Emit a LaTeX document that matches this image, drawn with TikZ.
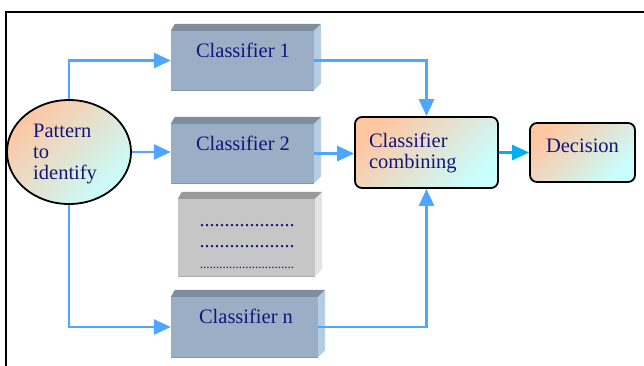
\documentclass[tikz,border=0pt]{standalone}
\usepackage{fontspec}
\setmainfont{Liberation Serif}
\usetikzlibrary{arrows.meta,shapes.geometric}
\definecolor{txt}{HTML}{14147A}
\definecolor{arr}{HTML}{4DA6FF}
\definecolor{arrb}{HTML}{00B0F0}
\definecolor{peach}{HTML}{FFC6A2}
\definecolor{aqua}{HTML}{C8FFFF}
\definecolor{bfront}{HTML}{9AAFC5}
\definecolor{btop}{HTML}{7F8E9F}
\definecolor{bside}{HTML}{B4CCE6}
\definecolor{bbot}{HTML}{8497AB}
\definecolor{gfront}{HTML}{C6C6C6}
\definecolor{gtop}{HTML}{9A9A9A}
\definecolor{gside}{HTML}{E4E4E4}
\definecolor{gbot}{HTML}{ADADAD}
\tikzset{
  lbl/.style={text=txt, font=\fontsize{20.5}{21}\selectfont, inner sep=0pt},
  front/.style={draw=none, inner sep=0pt, minimum width=143pt, minimum height=59pt},
  gradbox/.style={draw=black, line width=1.8pt, rounded corners=7pt, top color=peach, bottom color=aqua, shading angle=45, text=txt, font=\fontsize{20.5}{21}\selectfont},
  conn/.style={draw=arr, line width=2.8pt, -{Triangle[length=17pt,width=15pt]}},
}
\newcommand{\bevelbox}[4]{% name, topcolor, sidecolor, botcolor
  \fill[#2] (#1.north west) -- ++(4,-7) -- ([shift={(7,-7)}]#1.north east) -- (#1.north east) -- cycle;
  \fill[#3] (#1.north east) -- ++(7,-7) -- ([shift={(7,-7)}]#1.south east) -- (#1.south east) -- cycle;
  \draw[#4, line width=1.2pt] ([yshift=-0.6]#1.south west) -- ([yshift=-0.6]#1.south east);
}
\begin{document}
\begin{tikzpicture}[x=1pt,y=-1pt]
\useasboundingbox (0,0) rectangle (644,365);
\begin{scope}
\clip (0,0) rectangle (644,365);
\draw[line width=2.3pt] (6,366) -- (6,12) -- (646,12);
\end{scope}

% classifier boxes
\node[front, fill=bfront] (c1) at (242.5,60.5) {};
\bevelbox{c1}{btop}{bside}{bbot}
\node[front, fill=bfront] (c2) at (242.5,153.5) {};
\bevelbox{c2}{btop}{bside}{bbot}
\node[front, fill=gfront, minimum width=137pt, minimum height=77pt] (cd) at (246.5,237.5) {};
\bevelbox{cd}{gtop}{gside}{gbot}
\node[front, fill=bfront, minimum width=147pt, minimum height=60pt] (cn) at (244.5,327) {};
\bevelbox{cn}{btop}{bside}{bbot}

\node[lbl] (t1) at (243,50) {Classifier 1};
\node[lbl] (t2) at (243,143) {Classifier 2};
\node[lbl] (tn) at (246,316) {Classifier n};
\node[lbl, font=\fontsize{20}{21}\selectfont] (d1) at (247,226) {...................};
\node[lbl, font=\fontsize{20}{21}\selectfont] (d2) at (247,247) {...................};
\node[lbl, font=\fontsize{13}{14}\selectfont] (d3) at (247,268) {.............................};

% ellipse
\node[ellipse, draw=black, line width=1.8pt, top color=peach, bottom color=aqua, shading angle=45, minimum width=124pt, minimum height=104pt, inner sep=0pt] (ell) at (69,152) {};
\node[lbl, align=left, anchor=west] (pt) at (33,154) {Pattern\\to\\identify};

% combining and decision
\node[gradbox, minimum width=143pt, minimum height=71pt, text width=115pt, align=left, inner xsep=14pt] (comb) at (426.5,152.5) {\raisebox{-2pt}[0pt][0pt]{}Classifier\\combining};
\node[gradbox, minimum width=105pt, minimum height=59pt, inner sep=0pt] (dec) at (582.5,152.5) {\raisebox{7pt}[13pt][0pt]{Decision}};

% connectors
\draw[conn] (ell.north) |- (c1.west);
\draw[conn] (ell.east) -- (ell.east -| c2.west);
\draw[conn] (ell.south) |- (cn.west);
\draw[conn] (c1.east) -| (comb.north);
\draw[conn] (c2.east) -- (c2.east -| comb.west);
\draw[conn] (cn.east) -| (comb.south);
\draw[conn, draw=arrb] (comb.east) -- (dec.west);
\end{tikzpicture}
\end{document}
